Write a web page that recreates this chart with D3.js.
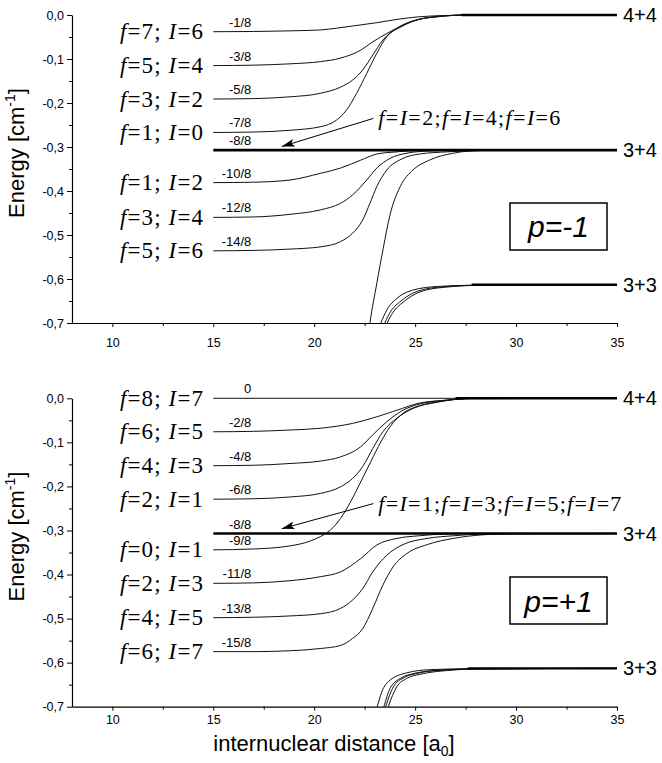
<!DOCTYPE html>
<html><head><meta charset="utf-8">
<script src="https://cdn.jsdelivr.net/npm/d3@7"></script>
<style>
body{margin:0;background:#fff;}
svg{display:block;}
</style></head><body>
<svg id="chart" width="662" height="763"></svg>
<script>
// ---------------- DATA ----------------
// axis ticks
const xMajor = [10, 15, 20, 25, 30, 35];
const xMinor = [12.5, 17.5, 22.5, 27.5, 32.5];
const yMajor = [0, -0.1, -0.2, -0.3, -0.4, -0.5, -0.6, -0.7];
const yMinor = [-0.05, -0.15, -0.25, -0.35, -0.45, -0.55, -0.65];

// asymptotes
const asymText = ["4+4", "3+4", "3+3"];
const asymE = [0, -0.307, -0.613];
const topAsymFrom = [27.3, 15, 27.8];
const botAsymFrom = [27.0, 15, 27.6];

// p = -1 panel: levels at R = 15
const topLevelText = ["-1/8", "-3/8", "-5/8", "-7/8", "-8/8", "-10/8", "-12/8", "-14/8"];
const topLevelE = [-0.038, -0.115, -0.191, -0.267, -0.307, -0.381, -0.46, -0.536];
const topLabelF = [7, 5, 3, 1, null, 1, 3, 5];
const topLabelI = [6, 4, 2, 0, null, 2, 4, 6];
const topArrowN = [2, 4, 6];

// p = +1 panel: levels at R = 15
const botLevelText = ["0", "-2/8", "-4/8", "-6/8", "-8/8", "-9/8", "-11/8", "-13/8", "-15/8"];
const botLevelE = [0, -0.076, -0.153, -0.229, -0.307, -0.344, -0.42, -0.498, -0.575];
const botLabelF = [8, 6, 4, 2, null, 0, 2, 4, 6];
const botLabelI = [7, 5, 3, 1, null, 1, 3, 5, 7];
const botArrowN = [1, 3, 5, 7];

// p = -1 curves [R (a0), E (cm^-1)]
const topM1 = [[15,-0.038],[17,-0.0375],[18.8,-0.036],[20.3,-0.034],[21.1,-0.03],[21.9,-0.025],[23.1,-0.0175],[24.1,-0.01],[25.2,-0.004],[26.6,-0.001],[28,0],[35,0]];
const topM3 = [[15,-0.115],[17,-0.114],[18.8,-0.111],[20.3,-0.106],[21.3,-0.098],[22.3,-0.08],[22.9,-0.061],[23.6,-0.042],[24.4,-0.023],[25.2,-0.01],[26.4,-0.002],[27.8,0],[35,0]];
const topM5 = [[15,-0.191],[17,-0.19],[18.8,-0.186],[20.3,-0.178],[21.3,-0.164],[21.9,-0.148],[22.4,-0.125],[22.9,-0.091],[23.4,-0.057],[24.1,-0.03],[24.9,-0.013],[26.1,-0.004],[27.5,0],[35,0]];
const topM7 = [[15,-0.267],[17,-0.266],[18.8,-0.262],[20.3,-0.254],[21.1,-0.239],[21.6,-0.216],[22.1,-0.178],[22.6,-0.133],[23.1,-0.087],[23.6,-0.049],[24.3,-0.027],[25.1,-0.011],[26.1,-0.004],[27.5,0],[35,0]];
const topM10 = [[15,-0.381],[17,-0.38],[18.8,-0.375],[20.3,-0.36],[21.3,-0.348],[22.3,-0.33],[23.1,-0.316],[24.1,-0.311],[25.2,-0.308],[27,-0.307],[35,-0.307]];
const topM12 = [[15,-0.46],[17,-0.459],[18.8,-0.453],[20.3,-0.443],[21.3,-0.428],[21.9,-0.409],[22.6,-0.375],[23.1,-0.348],[23.75,-0.326],[24.6,-0.314],[25.7,-0.309],[27.5,-0.307],[35,-0.307]];
const topM14 = [[15,-0.536],[17,-0.535],[18.8,-0.532],[20.3,-0.527],[21.3,-0.515],[21.9,-0.496],[22.4,-0.466],[22.76,-0.428],[23.1,-0.39],[23.6,-0.352],[24.3,-0.328],[25.2,-0.316],[26.6,-0.311],[28.2,-0.308],[35,-0.307]];
const topSteep = [[22.7,-0.72],[22.76,-0.7],[23.1,-0.61],[23.42,-0.53],[23.75,-0.455],[24.26,-0.39],[24.9,-0.352],[25.7,-0.33],[26.9,-0.314],[28.2,-0.308],[35,-0.307]];
const topLowA = [[23.1,-0.725],[23.3,-0.7],[23.6,-0.67],[24.1,-0.644],[24.9,-0.625],[26.1,-0.617],[28.1,-0.614],[35,-0.613]];
const topLowB = [[23.3,-0.725],[23.5,-0.7],[23.8,-0.673],[24.3,-0.65],[25.1,-0.628],[26.3,-0.618],[28.3,-0.614],[35,-0.613]];
const topLowC = [[23.42,-0.725],[23.62,-0.7],[23.9,-0.676],[24.4,-0.653],[25.2,-0.63],[26.4,-0.619],[28.5,-0.614],[35,-0.613]];

// p = +1 curves
const botZero = [[15,0],[35,0]];
const botM2 = [[15,-0.076],[17,-0.075],[18.8,-0.072],[20.3,-0.068],[21.9,-0.057],[23.1,-0.042],[24.1,-0.027],[25.2,-0.011],[26.6,-0.004],[28,0],[35,0]];
const botM4 = [[15,-0.153],[17,-0.152],[18.8,-0.148],[20.3,-0.1425],[21.3,-0.133],[22.3,-0.11],[22.9,-0.083],[23.6,-0.053],[24.4,-0.027],[25.2,-0.013],[26.4,-0.005],[27.8,0],[35,0]];
const botM6 = [[15,-0.229],[17,-0.228],[18.8,-0.224],[20.3,-0.216],[21.3,-0.201],[21.9,-0.182],[22.4,-0.155],[22.9,-0.114],[23.4,-0.076],[24.1,-0.045],[24.9,-0.023],[26.1,-0.009],[27.5,-0.001],[35,0]];
const botM9 = [[15,-0.344],[17,-0.342],[18.8,-0.335],[19.8,-0.324],[20.3,-0.314],[20.8,-0.299],[21.3,-0.273],[21.8,-0.235],[22.3,-0.19],[22.8,-0.144],[23.3,-0.099],[23.75,-0.065],[24.4,-0.034],[25.2,-0.017],[26.4,-0.006],[28,0],[35,0]];
const botM11 = [[15,-0.42],[17,-0.419],[18.8,-0.414],[20.3,-0.405],[21.3,-0.394],[22.3,-0.364],[23.1,-0.333],[24.1,-0.318],[25.2,-0.312],[26.5,-0.308],[28,-0.307],[35,-0.307]];
const botM13 = [[15,-0.498],[17,-0.497],[18.8,-0.494],[20.3,-0.489],[21.3,-0.477],[21.9,-0.458],[22.4,-0.432],[22.9,-0.394],[23.6,-0.356],[24.4,-0.332],[25.6,-0.318],[26.9,-0.312],[28.5,-0.308],[35,-0.307]];
const botM15 = [[15,-0.575],[17,-0.575],[18.8,-0.573],[20.3,-0.568],[21.3,-0.561],[21.9,-0.545],[22.4,-0.523],[22.9,-0.477],[23.4,-0.424],[23.9,-0.383],[24.6,-0.352],[25.6,-0.332],[26.9,-0.318],[28.3,-0.31],[30,-0.307],[35,-0.307]];
const botLowA = [[22.95,-0.725],[23.12,-0.7],[23.34,-0.667],[23.75,-0.64],[24.6,-0.623],[25.7,-0.616],[27.5,-0.614],[35,-0.613]];
const botLowB = [[23.28,-0.725],[23.45,-0.7],[23.75,-0.659],[24.26,-0.636],[25.1,-0.623],[26.2,-0.617],[28,-0.614],[35,-0.613]];
const botLowC = [[23.38,-0.725],[23.54,-0.7],[23.92,-0.655],[24.41,-0.635],[25.24,-0.623],[26.4,-0.617],[28.2,-0.614],[35,-0.613]];
const botLowD = [[23.5,-0.725],[23.67,-0.7],[24.09,-0.655],[24.58,-0.636],[25.4,-0.625],[26.56,-0.618],[28.4,-0.614],[35,-0.613]];

// arrows [R, E]
const topArrowFrom = [22.93, -0.235], topArrowTo = [18.39, -0.299];
const botArrowFrom = [22.93, -0.239], botArrowTo = [18.39, -0.296];

// ---------------- DRAWING ----------------
const SANS = "'Liberation Sans', Arial, Helvetica, sans-serif";
const SERIF = "'Liberation Serif', 'Times New Roman', Times, serif";
const svg = d3.select("#chart");
const x = d3.scaleLinear().domain([8, 35]).range([72, 617]);

svg.append("defs").append("marker")
  .attr("id", "arrowhead").attr("viewBox", "0 0 13 8")
  .attr("refX", 13).attr("refY", 4)
  .attr("markerWidth", 13).attr("markerHeight", 8)
  .attr("markerUnits", "userSpaceOnUse").attr("orient", "auto")
  .append("path").attr("d", "M0,0 L13,4 L0,8 L3,4 Z").attr("fill", "#000");

const panels = [
  { id: "top", y: d3.scaleLinear().domain([0, -0.7]).range([15, 323]),
    curves: [topM1, topM3, topM5, topM7, topM10, topM12, topM14, topSteep, topLowA, topLowB, topLowC],
    levelE: topLevelE, levelText: topLevelText, F: topLabelF, I: topLabelI,
    arrowN: topArrowN, arrowFrom: topArrowFrom, arrowTo: topArrowTo, arrowTextLen: 182,
    asymFrom: topAsymFrom, pText: "p=-1", xLabOff: 24, boxTop: 203, boxBase: 237 },
  { id: "bot", y: d3.scaleLinear().domain([0, -0.7]).range([398.3, 706.7]),
    curves: [botZero, botM2, botM4, botM6, botM9, botM11, botM13, botM15, botLowA, botLowB, botLowC, botLowD],
    levelE: botLevelE, levelText: botLevelText, F: botLabelF, I: botLabelI,
    arrowN: botArrowN, arrowFrom: botArrowFrom, arrowTo: botArrowTo, arrowTextLen: 243,
    asymFrom: botAsymFrom, pText: "p=+1", xLabOff: 17, boxTop: 577, boxBase: 612 }
];

panels.forEach(p => {
  const y = p.y;
  const g = svg.append("g");
  const top = y(0) - 8, bottom = y(-0.7);

  g.append("clipPath").attr("id", "clip-" + p.id)
    .append("rect").attr("x", x(8)).attr("y", top).attr("width", x(35) - x(8)).attr("height", bottom - top);

  const plot = g.append("g").attr("clip-path", `url(#clip-${p.id})`);
  const line = d3.line().x(d => x(d[0])).y(d => y(d[1])).curve(d3.curveMonotoneX);

  plot.selectAll("path.curve").data(p.curves).join("path")
    .attr("class", "curve").attr("d", line)
    .attr("fill", "none").attr("stroke", "#111").attr("stroke-width", 1);

  // thick asymptote lines
  asymE.forEach((e, i) => {
    plot.append("line")
      .attr("x1", x(p.asymFrom[i])).attr("x2", x(35))
      .attr("y1", y(e)).attr("y2", y(e))
      .attr("stroke", "#000").attr("stroke-width", i === 1 ? 2.6 : 2.4);
    g.append("text").attr("x", x(35) + 6).attr("y", y(e) + 7)
      .attr("font-family", SANS).attr("font-size", 20).text(asymText[i]);
  });

  // level fraction labels
  p.levelE.forEach((e, i) => {
    g.append("text").attr("x", x(15) + 38).attr("y", y(e) - 5)
      .attr("text-anchor", "end").attr("font-family", SANS).attr("font-size", 13)
      .text(p.levelText[i]);
    if (p.F[i] !== null) {
      const t = g.append("text").attr("x", 120).attr("y", y(e) + 7.5)
        .attr("font-family", SERIF).attr("font-size", 23)
        .attr("textLength", 83).attr("lengthAdjust", "spacing");
      t.append("tspan").attr("font-style", "italic").text("f");
      t.append("tspan").text("=" + p.F[i] + "; ");
      t.append("tspan").attr("font-style", "italic").text("I");
      t.append("tspan").text("=" + p.I[i]);
    }
  });

  // arrow + label
  g.append("line")
    .attr("x1", x(p.arrowFrom[0])).attr("y1", y(p.arrowFrom[1]))
    .attr("x2", x(p.arrowTo[0])).attr("y2", y(p.arrowTo[1]))
    .attr("stroke", "#000").attr("stroke-width", 1)
    .attr("marker-end", "url(#arrowhead)");
  const at = g.append("text").attr("x", x(p.arrowFrom[0]) + 5).attr("y", y(p.arrowFrom[1]) + 7)
    .attr("font-family", SERIF).attr("font-size", 22)
    .attr("textLength", p.arrowTextLen).attr("lengthAdjust", "spacing");
  p.arrowN.forEach((n, k) => {
    at.append("tspan").attr("font-style", "italic").text("f");
    at.append("tspan").text("=");
    at.append("tspan").attr("font-style", "italic").text("I");
    at.append("tspan").text("=" + n + (k < p.arrowN.length - 1 ? ";" : ""));
  });

  // p box
  g.append("rect").attr("x", 510).attr("y", p.boxTop).attr("width", 97).attr("height", 47)
    .attr("fill", "none").attr("stroke", "#000").attr("stroke-width", 1.5);
  g.append("text").attr("x", 558.5).attr("y", p.boxBase).attr("text-anchor", "middle")
    .attr("font-family", SANS).attr("font-style", "italic").attr("font-size", 30).text(p.pText);

  // axes
  const fmt = d => d.toFixed(1).replace(".", ",");
  const ya = g.append("g").attr("transform", `translate(${x(8)},0)`)
    .call(d3.axisLeft(y).tickValues(yMajor).tickFormat(fmt).tickSize(5).tickSizeOuter(0).tickPadding(3));
  g.append("g").attr("transform", `translate(${x(8)},0)`)
    .call(d3.axisLeft(y).tickValues(yMinor).tickFormat("").tickSize(3).tickSizeOuter(0))
    .select(".domain").remove();
  const xa = g.append("g").attr("transform", `translate(0,${bottom})`)
    .call(d3.axisBottom(x).tickValues(xMajor).tickSize(4).tickSizeOuter(0));
  g.append("g").attr("transform", `translate(0,${bottom})`)
    .call(d3.axisBottom(x).tickValues(xMinor).tickFormat("").tickSize(3).tickSizeOuter(0))
    .select(".domain").remove();
  xa.selectAll("text").attr("dy", null).attr("y", p.xLabOff);
  [ya, xa].forEach(a => {
    a.selectAll("text").attr("font-family", SANS).attr("font-size", 12.5).attr("fill", "#000");
    a.select(".domain").attr("stroke-width", 1.2);
  });
  g.selectAll(".tick line").attr("stroke", "#000").attr("stroke-width", 1);

  // y title
  const yt2 = g.append("text")
    .attr("transform", `translate(24,${(y(0) + bottom) / 2 - 16}) rotate(-90)`)
    .attr("text-anchor", "middle").attr("font-family", SANS).attr("font-size", 22);
  yt2.append("tspan").text("Energy [cm");
  yt2.append("tspan").attr("font-size", 14).attr("dy", -9).text("-1");
  yt2.append("tspan").attr("dy", 9).text("]");
});

// x title
const xt = svg.append("text").attr("x", 334).attr("y", 751)
  .attr("text-anchor", "middle").attr("font-family", SANS).attr("font-size", 22);
xt.append("tspan").text("internuclear distance [a");
xt.append("tspan").attr("font-size", 14).attr("dy", 5).text("0");
xt.append("tspan").attr("dy", -5).text("]");
</script></body></html>
